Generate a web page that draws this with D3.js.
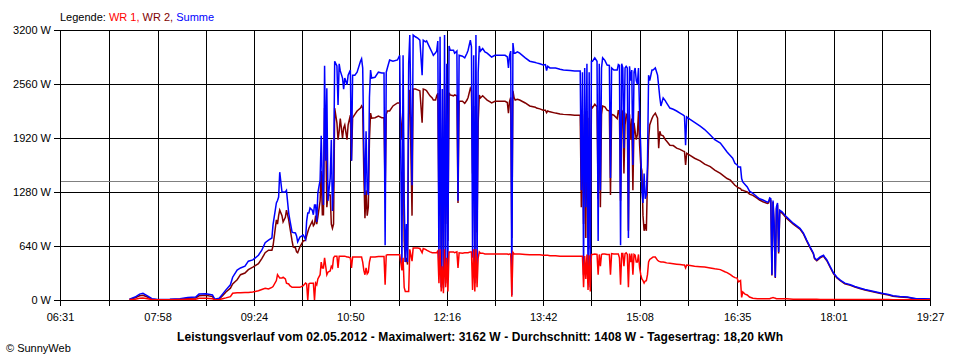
<!DOCTYPE html>
<html><head><meta charset="utf-8">
<script src="https://cdn.jsdelivr.net/npm/d3@7"></script>
<style>
body{margin:0;background:#fff}
svg{display:block}
text{font-family:"Liberation Sans",Arial,sans-serif}
</style>
</head><body>
<svg id="c" width="960" height="360"></svg>
<script>
const times = ["07:33","07:38","07:42","07:45","07:49","07:53","07:58","08:09","08:18","08:25","08:32","08:35","08:41","08:47","08:49","08:53","08:56","08:59","09:03","09:05","09:09","09:12","09:16","09:19","09:23","09:28","09:31","09:34","09:37","09:40","09:41","09:44","09:45","09:46","09:47","09:49","09:50","09:52","09:53","09:55","09:56","09:58","09:59","10:01","10:02","10:03","10:05","10:08","10:10","10:11","10:12","10:13","10:14","10:16","10:17","10:18","10:19","10:20","10:21","10:23","10:24","10:25","10:26","10:27","10:28","10:29","10:30","10:32","10:33","10:34","10:35","10:36","10:38","10:39","10:40","10:41","10:43","10:44","10:45","10:47","10:48","10:50","10:51","10:52","10:54","10:56","10:59","11:00","11:01","11:02","11:03","11:04","11:05","11:06","11:07","11:08","11:09","11:12","11:15","11:18","11:20","11:21","11:22","11:23","11:25","11:28","11:32","11:34","11:36","11:37","11:38","11:39","11:40","11:41","11:42","11:43","11:45","11:46","11:48","11:50","11:52","11:54","11:55","11:57","11:58","12:01","12:03","12:04","12:06","12:07","12:08","12:09","12:10","12:11","12:12","12:13","12:14","12:15","12:16","12:17","12:18","12:19","12:22","12:23","12:25","12:26","12:27","12:30","12:32","12:34","12:35","12:37","12:38","12:39","12:40","12:41","12:42","12:43","12:44","12:45","12:46","12:48","12:50","12:52","12:55","12:56","12:59","13:03","13:08","13:10","13:11","13:12","13:13","13:14","13:15","13:16","13:17","13:19","13:21","13:26","13:30","13:35","13:36","13:39","13:42","13:44","13:45","13:46","13:48","13:53","13:57","14:00","14:06","14:10","14:15","14:16","14:17","14:18","14:19","14:20","14:21","14:22","14:23","14:24","14:25","14:26","14:28","14:30","14:31","14:32","14:33","14:34","14:35","14:37","14:39","14:41","14:42","14:43","14:45","14:48","14:49","14:50","14:51","14:52","14:53","14:54","14:55","14:56","14:57","14:58","14:59","15:00","15:01","15:02","15:03","15:04","15:05","15:06","15:07","15:08","15:09","15:10","15:11","15:12","15:13","15:14","15:15","15:16","15:17","15:19","15:20","15:22","15:24","15:25","15:26","15:27","15:29","15:31","15:32","15:35","15:38","15:41","15:44","15:47","15:48","15:49","15:50","15:53","15:57","16:02","16:06","16:11","16:15","16:20","16:24","16:26","16:29","16:31","16:33","16:35","16:36","16:38","16:39","16:40","16:42","16:44","16:46","16:49","16:53","16:55","16:58","17:02","17:03","17:04","17:05","17:06","17:07","17:08","17:09","17:10","17:11","17:12","17:13","17:15","17:19","17:25","17:31","17:34","17:37","17:40","17:43","17:44","17:46","17:49","17:52","17:53","17:55","17:58","18:01","18:04","18:07","18:11","18:16","18:20","18:25","18:29","18:34","18:39","18:44","18:50","18:54","19:00","19:07","19:11","19:15","19:22","19:27"];

const summe = [10,35,70,80,50,15,5,8,15,30,35,70,75,60,10,20,70,120,180,270,355,380,400,460,475,530,590,680,710,735,890,1150,1180,1220,1515,1280,1280,1280,1300,1030,950,805,800,795,760,690,745,770,720,935,1030,1030,1090,1065,1010,1125,1125,925,1270,1420,1945,1410,1125,2775,1650,2510,1175,1445,1900,1055,1400,2830,2775,2310,2800,2715,2630,2500,2630,2550,2665,2725,1650,2665,2665,2700,2830,2860,2750,1800,1245,2000,1300,1245,2400,2725,2630,2640,2700,2690,2690,650,2700,2750,2845,2830,2845,2900,380,2900,1200,450,900,450,2800,3140,1360,3140,3120,3105,3080,2665,3080,3060,3070,2985,2930,2900,2930,2950,3070,300,3120,150,2500,140,3140,200,2800,400,3010,2960,2960,2925,2950,1175,2900,2890,2870,2925,2960,3080,3000,500,2900,200,3140,300,2700,3010,2950,2980,2940,2925,2890,2880,2900,2900,2900,2880,2750,2900,2950,60,3045,2925,2925,2940,2925,2870,2830,2815,2810,2800,2785,2790,2720,2770,2750,2750,2735,2725,2720,2715,2715,1300,2700,300,2750,1100,2800,200,2700,150,2830,2830,2870,2830,700,2800,1300,2750,2870,2840,2785,2780,1445,2750,2725,2725,2790,2780,650,2800,2750,1800,2750,2770,2750,735,2770,2600,2725,1600,2700,2750,2600,2560,2750,2200,1800,1300,1150,1500,1200,1250,1600,2665,2600,2725,2725,2750,2665,2535,2400,2300,2395,2360,2335,2275,2260,2240,2215,2190,2180,1835,2170,2140,2105,2060,2020,1955,1900,1860,1790,1755,1710,1680,1620,1600,1575,1575,1440,1400,1370,1340,1290,1265,1220,1200,1185,1160,1165,1210,1200,300,1180,900,270,1100,1150,570,1065,1045,985,910,850,795,710,630,555,500,475,510,530,510,475,395,320,270,235,200,180,160,140,125,110,95,80,65,50,42,35,25,15,14,12];

const wr2 = [5,25,50,55,35,10,3,5,10,20,25,50,55,40,5,12,50,95,140,190,240,300,320,360,390,430,490,560,590,590,640,950,900,1000,1065,1000,925,980,1065,950,865,700,630,620,570,560,630,700,710,760,805,850,880,935,880,900,1000,900,985,1175,1530,1010,1010,2275,2040,1100,1245,1245,900,850,900,2275,2100,1900,2000,2150,1920,2040,2075,1900,2075,2190,1650,2160,2200,2240,2275,2300,2275,1500,970,1300,1000,1100,1900,2215,2155,2160,2180,2160,2160,1250,2200,2240,2240,2300,2335,2335,1900,2300,700,450,500,420,2200,2490,1000,2500,2500,2490,2480,2100,2500,2490,2480,2420,2395,2370,2370,2420,2450,1000,2500,600,1800,300,2550,900,2200,700,2455,2430,2420,2430,2420,1150,2355,2355,2330,2370,2400,2510,2480,1500,2300,500,2560,800,2100,2430,2395,2420,2395,2370,2345,2335,2355,2355,2355,2340,2215,2355,2400,735,2480,2400,2370,2380,2370,2335,2300,2285,2275,2265,2250,2250,2220,2240,2230,2215,2205,2200,2195,2190,2190,1100,2200,900,2240,735,2240,735,2160,600,2300,2280,2320,2290,1200,2250,1100,2200,2300,2290,2250,2240,1245,2200,2190,2150,2250,2200,1175,2250,2220,1500,2075,2200,2180,820,2200,1900,2150,1300,2100,2000,1900,1960,2240,1835,1600,1530,1000,820,900,820,1445,1900,2075,2150,2180,2215,2155,1800,2000,1955,1945,1900,1885,1835,1830,1800,1785,1765,1760,1600,1740,1715,1680,1650,1610,1580,1540,1500,1460,1440,1420,1390,1360,1340,1330,1320,1300,1300,1290,1280,1255,1240,1205,1185,1165,1145,1150,1190,1180,290,1160,880,260,1080,1130,550,1050,1030,970,900,840,785,700,620,545,490,465,500,520,500,465,385,310,262,228,193,173,153,133,118,104,89,74,60,45,37,30,20,11,10,8];

const wr1 = [5,10,20,25,15,5,2,3,5,8,10,20,20,15,3,5,15,25,40,80,85,85,90,90,95,110,125,140,130,150,160,230,300,280,260,260,270,250,200,190,170,150,150,150,150,150,150,170,200,190,0,190,200,200,200,0,200,180,250,300,450,380,380,500,400,300,330,345,400,380,500,520,520,380,520,520,520,520,520,510,510,500,380,510,510,510,510,510,450,350,300,380,310,330,450,510,510,510,515,515,515,180,530,535,535,535,535,535,350,500,150,100,100,100,100,600,460,615,615,615,610,560,610,600,590,570,560,560,560,560,580,200,600,100,400,80,600,150,500,100,570,570,570,560,570,380,560,555,560,560,560,570,570,120,600,100,600,150,500,570,555,555,545,545,545,545,545,545,545,545,540,545,545,40,565,545,545,545,545,540,535,535,535,535,530,530,530,530,525,525,520,520,520,520,520,520,520,150,520,250,540,120,530,100,540,540,545,540,300,540,400,540,545,545,540,540,300,550,545,545,545,500,180,550,550,400,550,560,540,150,550,450,550,300,540,530,450,450,540,380,300,250,230,200,225,230,300,450,480,500,510,510,470,460,455,450,450,445,440,435,430,425,420,415,415,380,415,410,400,395,390,380,370,360,335,325,300,280,265,260,215,230,30,95,70,60,35,20,15,15,15,15,15,15,20,25,30,25,20,15,15,15,15,15,15,10,10,8,8,8,8,8,8,7,7,7,7,6,6,6,6,5,5,5,5,5,5,5,5,5,4,4,4,4,4,4,4];

const yTickValues = [0, 640, 1280, 1920, 2560, 3200];
const xTickLabels = ["06:31","07:58","09:24","10:50","12:16","13:42","15:08","16:35","18:01","19:27"];
const average = 1408;
const titleText = "Leistungsverlauf vom 02.05.2012 - Maximalwert: 3162 W - Durchschnitt: 1408 W - Tagesertrag: 18,20 kWh";
const legendParts = [["Legende: ", "#000000"], ["WR 1, ", "#ff0000"], ["WR 2, ", "#800000"], ["Summe", "#0000ff"]];

const parse = d3.timeParse("%H:%M");
const m = {left: 60, right: 930, top: 30, bottom: 300};
const svg = d3.select("#c");

const x = d3.scaleTime()
  .domain([parse(xTickLabels[0]), parse(xTickLabels[xTickLabels.length - 1])])
  .range([m.left, m.right]);
const y = d3.scaleLinear().domain([0, 3200]).range([m.bottom, m.top]);

const labelDates = xTickLabels.map(parse);
const gridDates = [];
labelDates.forEach((d, i) => {
  gridDates.push(d);
  if (i < labelDates.length - 1) gridDates.push(new Date((d.getTime() + labelDates[i + 1].getTime()) / 2));
});
const px = v => Math.round(v) + 0.5;

const grid = svg.append("g").attr("shape-rendering", "crispEdges");
yTickValues.forEach(v => {
  grid.append("line").attr("x1", m.left - 6).attr("x2", m.right)
    .attr("y1", px(y(v))).attr("y2", px(y(v))).attr("stroke", "#000");
});
gridDates.forEach(d => {
  grid.append("line").attr("x1", px(x(d))).attr("x2", px(x(d)))
    .attr("y1", m.top).attr("y2", m.bottom + 6).attr("stroke", "#000");
});
grid.append("line").attr("x1", m.left + 1).attr("x2", m.right)
  .attr("y1", px(y(average))).attr("y2", px(y(average))).attr("stroke", "#808080");

svg.append("g").selectAll("text").data(yTickValues).join("text")
  .attr("x", 51).attr("y", d => y(d) + 4)
  .attr("text-anchor", "end").attr("font-size", 11).attr("fill", "#000")
  .text(d => d + " W");
svg.append("g").selectAll("text").data(labelDates).join("text")
  .attr("x", d => x(d) + 0.5).attr("y", 321)
  .attr("text-anchor", "middle").attr("font-size", 11).attr("fill", "#000")
  .text((d, i) => xTickLabels[i]);

svg.append("clipPath").attr("id", "clip").append("rect")
  .attr("x", m.left + 1).attr("y", m.top - 2).attr("width", m.right - m.left - 1).attr("height", m.bottom - m.top + 2);

const dates = times.map(parse);
const line = d3.line().x((d, i) => x(dates[i])).y(d => y(d)).curve(d3.curveLinear);
const series = [[wr2, "#800000"], [summe, "#0000ff"], [wr1, "#ff0000"]];
const lines = svg.append("g").attr("clip-path", "url(#clip)");
series.forEach(([vals, col]) => {
  lines.append("path").attr("d", line(vals)).attr("fill", "none")
    .attr("stroke", col).attr("stroke-width", 1.5).attr("stroke-linejoin", "miter");
});

const leg = svg.append("text").attr("x", 60).attr("y", 21).attr("font-size", 11);
legendParts.forEach(([t, c]) => leg.append("tspan").attr("fill", c).attr("xml:space", "preserve").text(t));

svg.append("text").attr("x", 480).attr("y", 341).attr("text-anchor", "middle")
  .attr("font-size", 12).attr("font-weight", "bold").attr("fill", "#000")
  .attr("textLength", 606).attr("lengthAdjust", "spacing")
  .text(titleText);
svg.append("text").attr("x", 6).attr("y", 352).attr("font-size", 11).attr("fill", "#000")
  .text("\u00a9 SunnyWeb");
</script>
</body></html>
